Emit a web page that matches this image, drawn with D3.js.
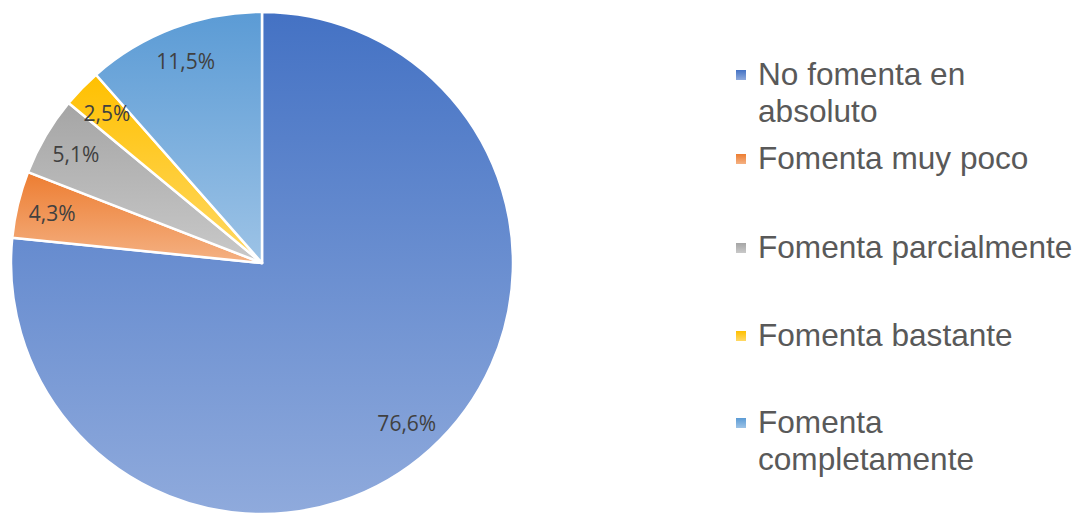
<!DOCTYPE html>
<html>
<head>
<meta charset="utf-8">
<script src="https://cdn.jsdelivr.net/npm/d3@7"></script>
<style>
  html, body { margin: 0; padding: 0; background: #ffffff; }
  svg { display: block; }
</style>
</head>
<body>
<svg id="chart" width="1079" height="513"></svg>
<script>
const categories = ["No fomenta en absoluto", "Fomenta muy poco", "Fomenta parcialmente", "Fomenta bastante", "Fomenta completamente"];
const values = [76.6, 4.3, 5.1, 2.5, 11.5];
const valueLabels = ["76,6%", "4,3%", "5,1%", "2,5%", "11,5%"];
const legendLines = [["No fomenta en", "absoluto"], ["Fomenta muy poco"], ["Fomenta parcialmente"], ["Fomenta bastante"], ["Fomenta", "completamente"]];
const colorsTop = ["#4472C4", "#ED7D31", "#A5A5A5", "#FFC000", "#5B9BD5"];
const colorsBottom = ["#8FAADC", "#F4B183", "#C9C9C9", "#FFD966", "#9DC3E6"];

const svg = d3.select("#chart");
const defs = svg.append("defs");
categories.forEach((c, i) => {
  const g = defs.append("linearGradient").attr("id", "grad" + i)
    .attr("x1", 0).attr("y1", 0).attr("x2", 0).attr("y2", 1);
  g.append("stop").attr("offset", "0%").attr("stop-color", colorsTop[i]);
  g.append("stop").attr("offset", "100%").attr("stop-color", colorsBottom[i]);
});

const cx = 262, cy = 263, r = 251;
const pie = d3.pie().sort(null).value(d => d)(values);
const arc = d3.arc().innerRadius(0).outerRadius(r);
const labelArc = d3.arc().innerRadius(r * 0.86).outerRadius(r * 0.86);

const gPie = svg.append("g").attr("transform", `translate(${cx},${cy})`);
gPie.selectAll("path.slice").data(pie).join("path")
  .attr("class", "slice")
  .attr("d", arc)
  .attr("fill", (d, i) => `url(#grad${i})`)
  .attr("stroke", "#ffffff")
  .attr("stroke-width", 2.5)
  .attr("stroke-linejoin", "round");

gPie.selectAll("text.lbl").data(pie).join("text")
  .attr("class", "lbl")
  .attr("transform", d => `translate(${labelArc.centroid(d)})`)
  .attr("text-anchor", "middle")
  .attr("dominant-baseline", "central")
  .attr("font-family", "'Open Sans', sans-serif")
  .attr("font-size", 21)
  .attr("fill", "#404040")
  .text((d, i) => valueLabels[i]);

// Legend
const legendBaselines = [85, 169, 258, 346, 433];
const lineH = 37;
const leg = svg.append("g");
categories.forEach((c, i) => {
  const y0 = legendBaselines[i];
  leg.append("rect").attr("x", 736).attr("y", y0 - 15).attr("width", 10).attr("height", 10)
    .attr("fill", `url(#grad${i})`);
  const t = leg.append("text").attr("x", 758).attr("y", y0)
    .attr("font-family", "'Liberation Sans', Arial, sans-serif")
    .attr("font-size", 31.6).attr("fill", "#595959");
  legendLines[i].forEach((ln, k) => {
    t.append("tspan").attr("x", 758).attr("y", y0 + k * lineH).text(ln);
  });
});
</script>
</body>
</html>
